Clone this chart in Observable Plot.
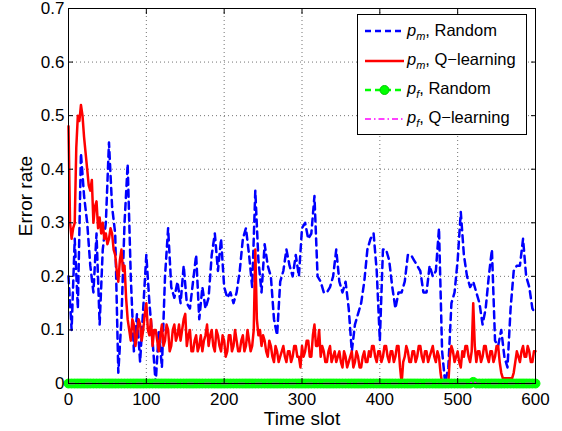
<!DOCTYPE html>
<html>
<head>
<meta charset="utf-8">
<script src="https://cdn.jsdelivr.net/npm/d3@7"></script>
<script src="https://cdn.jsdelivr.net/npm/@observablehq/plot@0.6"></script>
<style>
  body { margin: 0; background: #fff; }
  #wrap { position: relative; width: 562px; height: 431px; font-family: "Liberation Sans", Arial, Helvetica, sans-serif; }
  #legend { position: absolute; left: 357px; top: 14px; width: 170px; height: 121px; box-sizing: border-box;
            border: 1px solid #000; background: #fff; }
  .row { position: absolute; left: 0; height: 24px; display: flex; align-items: center; font-size: 16.5px; color: #000; white-space: nowrap; }
  .row svg { margin-left: 7px; margin-right: 3px; }
  .row sub { font-size: 11px; vertical-align: -4px; }
</style>
</head>
<body>
<div id="wrap"></div>
<script>
// Time-slot steps of the sampled series
const blueStep = 4;
const redStep = 2;

// p_m, Random (blue dashed), one value every 4 time slots, t = 0..600
const pmRandom = [
  0.20,0.10,0.27,0.14,0.43,0.35,0.30,0.22,0.17,0.28,
  0.11,0.25,0.30,0.45,0.33,0.28,0.02,0.12,0.30,0.41,
  0.20,0.06,0.13,0.04,0.14,0.24,0.15,0.08,0.00,0.10,
  0.03,0.20,0.29,0.18,0.16,0.19,0.15,0.22,0.15,0.14,
  0.19,0.24,0.12,0.18,0.14,0.16,0.24,0.28,0.21,0.27,
  0.18,0.16,0.17,0.15,0.17,0.21,0.27,0.29,0.24,0.18,
  0.36,0.23,0.17,0.26,0.22,0.20,0.12,0.09,0.19,0.21,
  0.25,0.22,0.20,0.24,0.20,0.29,0.30,0.27,0.28,0.35,
  0.20,0.19,0.17,0.17,0.18,0.20,0.25,0.19,0.17,0.19,
  0.14,0.06,0.11,0.13,0.15,0.19,0.25,0.27,0.28,0.21,
  0.08,0.25,0.25,0.23,0.18,0.14,0.17,0.17,0.19,0.24,
  0.24,0.23,0.22,0.21,0.17,0.17,0.22,0.20,0.21,0.29,
  0.06,0.00,0.03,0.15,0.17,0.23,0.32,0.24,0.20,0.18,
  0.19,0.17,0.15,0.11,0.14,0.20,0.25,0.08,0.07,0.10,
  0.05,0.03,0.14,0.21,0.22,0.22,0.27,0.20,0.18,0.14,
  0.13
];

// p_m, Q-learning (red solid), one value every 2 time slots, t = 0..600
const pmQlearning = [
  0.48,0.30,0.27,0.29,0.30,0.44,0.50,0.49,0.52,0.50,0.46,0.43,0.40,0.37,0.36,0.38,0.30,0.33,0.34,0.29,
  0.31,0.28,0.30,0.27,0.28,0.26,0.27,0.29,0.28,0.25,0.24,0.21,0.19,0.23,0.25,0.21,0.22,0.16,0.12,0.10,
  0.08,0.12,0.11,0.07,0.09,0.12,0.11,0.08,0.10,0.13,0.15,0.10,0.09,0.12,0.07,0.10,0.10,0.08,0.06,0.09,
  0.11,0.07,0.08,0.11,0.10,0.06,0.07,0.10,0.11,0.08,0.09,0.11,0.08,0.10,0.12,0.13,0.07,0.09,0.10,0.06,
  0.06,0.08,0.09,0.06,0.07,0.09,0.06,0.08,0.09,0.11,0.07,0.09,0.10,0.07,0.06,0.10,0.09,0.07,0.06,0.09,
  0.08,0.05,0.06,0.09,0.09,0.06,0.07,0.10,0.08,0.06,0.06,0.08,0.09,0.06,0.07,0.10,0.08,0.06,0.07,0.10,
  0.25,0.12,0.09,0.10,0.07,0.09,0.08,0.06,0.05,0.08,0.07,0.05,0.04,0.07,0.06,0.04,0.05,0.06,0.07,0.05,
  0.04,0.06,0.06,0.04,0.05,0.07,0.07,0.05,0.05,0.03,0.07,0.05,0.06,0.08,0.08,0.05,0.05,0.09,0.11,0.07,
  0.07,0.10,0.05,0.07,0.06,0.04,0.04,0.06,0.07,0.04,0.05,0.06,0.04,0.05,0.06,0.04,0.03,0.06,0.05,0.03,
  0.04,0.05,0.06,0.03,0.04,0.06,0.05,0.03,0.03,0.05,0.06,0.04,0.04,0.06,0.05,0.07,0.07,0.05,0.04,0.06,
  0.06,0.04,0.05,0.07,0.07,0.05,0.04,0.06,0.06,0.04,0.05,0.07,0.07,0.03,0.00,0.04,0.05,0.07,0.06,0.04,
  0.04,0.06,0.06,0.04,0.05,0.07,0.07,0.05,0.04,0.06,0.06,0.04,0.05,0.06,0.07,0.05,0.04,0.06,0.05,0.02,
  0.00,0.00,0.00,0.00,0.00,0.05,0.07,0.06,0.04,0.05,0.06,0.04,0.03,0.06,0.05,0.07,0.07,0.05,0.04,0.06,
  0.15,0.07,0.04,0.06,0.06,0.04,0.05,0.07,0.07,0.05,0.04,0.06,0.06,0.04,0.05,0.07,0.07,0.04,0.02,0.01,
  0.01,0.01,0.01,0.01,0.01,0.01,0.02,0.04,0.06,0.05,0.04,0.06,0.07,0.05,0.05,0.07,0.06,0.04,0.04,0.06,
  0.06
];

// p_f, Random (green, circle markers), every 4 time slots
const pfRandom = [
  0,0,0,0,0,0,0,0,0,0,
  0,0,0,0,0,0,0,0,0,0,
  0,0,0,0,0,0,0,0,0,0,
  0,0,0,0,0,0,0,0,0,0,
  0,0,0,0,0,0,0,0,0,0,
  0,0,0,0,0,0,0,0,0,0,
  0,0,0,0,0,0,0,0,0,0,
  0,0,0,0,0,0,0,0,0,0,
  0,0,0,0,0,0,0,0,0,0,
  0,0,0,0,0,0,0,0,0,0,
  0,0,0,0,0,0,0,0,0,0,
  0,0,0,0,0,0,0,0,0,0,
  0,0,0,0,0,0,0,0,0,0,
  0.003,0,0,0,0,0,0,0,0,0,
  0,0,0,0,0,0,0,0,0,0,
  0
];

// p_f, Q-learning (magenta dash-dot), every 4 time slots
const pfQlearning = [
  0,0,0,0,0,0,0,0,0,0,
  0,0,0,0,0,0,0,0,0,0,
  0,0,0,0,0,0,0,0,0,0,
  0,0,0,0,0,0,0,0,0,0,
  0,0,0,0,0,0,0,0,0,0,
  0,0,0,0,0,0,0,0,0,0,
  0,0,0,0,0,0,0,0,0,0,
  0,0,0,0,0,0,0,0,0,0,
  0,0,0,0,0,0,0,0,0,0,
  0,0,0,0,0,0,0,0,0,0,
  0,0,0,0,0,0,0,0,0,0,
  0,0,0,0,0,0,0,0,0,0,
  0,0,0,0,0,0,0,0,0,0,
  0.005,0,0,0,0,0,0,0,0,0,
  0,0,0,0,0,0,0,0,0,0,
  0
];

const xTicks = [0, 100, 200, 300, 400, 500, 600];
const yTicks = [0, 0.1, 0.2, 0.3, 0.4, 0.5, 0.6, 0.7];
const xLabel = "Time slot";
const yLabel = "Error rate";

const toRows = (arr, step) => arr.map((v, i) => ({t: i * step, v}));
const blue = toRows(pmRandom, blueStep), red = toRows(pmQlearning, redStep);
const green = toRows(pfRandom, blueStep), mag = toRows(pfQlearning, blueStep);

const fmtY = d => d === 0 ? "0" : d.toFixed(1);
const font = "Liberation Sans, Arial, Helvetica, sans-serif";

const chart = Plot.plot({
  width: 562,
  height: 431,
  marginLeft: 68,
  marginRight: 27,
  marginTop: 8,
  marginBottom: 48,
  style: {fontFamily: font, background: "#fff", overflow: "visible"},
  x: {domain: [0, 600]},
  y: {domain: [0, 0.7]},
  marks: [
    Plot.ruleY(yTicks.slice(1, -1), {stroke: "#000", strokeOpacity: 0.55, strokeDasharray: "1,3"}),
    Plot.ruleX(xTicks.slice(1, -1), {stroke: "#000", strokeOpacity: 0.55, strokeDasharray: "1,3"}),
    Plot.line(blue, {x: "t", y: "v", stroke: "#0000ff", strokeWidth: 2.5, strokeDasharray: "7,5"}),
    Plot.line(red, {x: "t", y: "v", stroke: "#ff0000", strokeWidth: 2.5}),
    Plot.line(green, {x: "t", y: "v", stroke: "#00ff00", strokeWidth: 2}),
    Plot.dot(green, {x: "t", y: "v", r: 4.5, fill: "#00ff00", stroke: "#00ff00", strokeWidth: 1}),
    Plot.line(mag, {x: "t", y: "v", stroke: "#ff00ff", strokeWidth: 1.5, strokeDasharray: "6,5,1,5"}),
    Plot.frame({stroke: "#000", strokeWidth: 1}),
    Plot.axisX({anchor: "bottom", ticks: xTicks, tickSize: -5, tickPadding: 14, fontSize: 17, label: null, tickFormat: d => String(d)}),
    Plot.axisX({anchor: "top", ticks: xTicks, tickSize: -5, tickFormat: () => "", label: null}),
    Plot.axisY({anchor: "left", ticks: yTicks, tickSize: -5, tickPadding: 9, fontSize: 17, label: null, tickFormat: fmtY}),
    Plot.axisY({anchor: "right", ticks: yTicks, tickSize: -5, tickFormat: () => "", label: null}),
    Plot.text([xLabel], {text: d => d, frameAnchor: "bottom", dy: 35, fontSize: 19, lineAnchor: "middle", fill: "#000"}),
    Plot.text([yLabel], {text: d => d, frameAnchor: "left", dx: -43, rotate: -90, fontSize: 19, lineAnchor: "middle", textAnchor: "middle", fill: "#000"})
  ]
});

const wrap = document.getElementById("wrap");
wrap.appendChild(chart);

// Legend (boxed, top-right inside axes)
const legendItems = [
  {sym: "m", name: "Random",     color: "#0000ff", dash: "6,4", width: 2.5, marker: false},
  {sym: "m", name: "Q\u2212learning", color: "#ff0000", dash: null, width: 2.5, marker: false},
  {sym: "f", name: "Random",     color: "#00ff00", dash: "6,4", width: 2.5, marker: true},
  {sym: "f", name: "Q\u2212learning", color: "#ff00ff", dash: "6,3,1.5,3", width: 1.5, marker: false}
];
const legend = document.createElement("div");
legend.id = "legend";
const rowCenters = [16, 45.5, 74.5, 103.5];
legendItems.forEach((it, i) => {
  const row = document.createElement("div");
  row.className = "row";
  row.style.top = (rowCenters[i] - 12) + "px";
  const ns = "http://www.w3.org/2000/svg";
  const svg = document.createElementNS(ns, "svg");
  svg.setAttribute("width", 39); svg.setAttribute("height", 14);
  const ln = document.createElementNS(ns, "line");
  ln.setAttribute("x1", 0); ln.setAttribute("x2", 39); ln.setAttribute("y1", 7); ln.setAttribute("y2", 7);
  ln.setAttribute("stroke", it.color); ln.setAttribute("stroke-width", it.width);
  if (it.dash) ln.setAttribute("stroke-dasharray", it.dash);
  svg.appendChild(ln);
  if (it.marker) {
    const c = document.createElementNS(ns, "circle");
    c.setAttribute("cx", 19.5); c.setAttribute("cy", 7); c.setAttribute("r", 4.5);
    c.setAttribute("fill", "#00ff00"); c.setAttribute("stroke", "#00cc00"); c.setAttribute("stroke-width", 1);
    svg.appendChild(c);
  }
  row.appendChild(svg);
  const span = document.createElement("span");
  span.innerHTML = `<i>p</i><sub><i>${it.sym}</i></sub>, ${it.name}`;
  row.appendChild(span);
  legend.appendChild(row);
});
wrap.appendChild(legend);
</script>
</body>
</html>
